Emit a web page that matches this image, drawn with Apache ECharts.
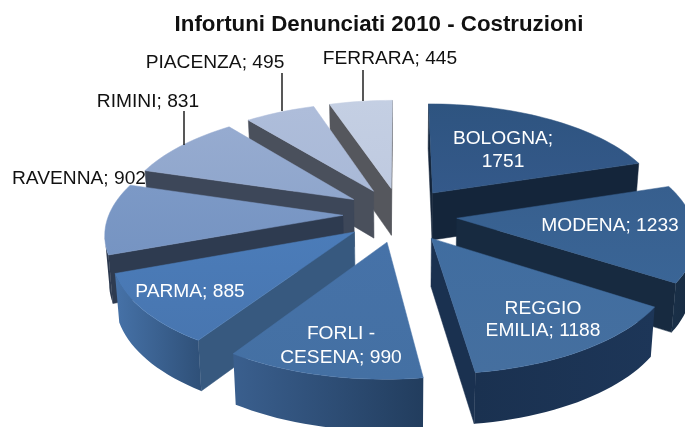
<!DOCTYPE html>
<html><head><meta charset="utf-8">
<style>html,body{margin:0;padding:0;background:#fff}#c{width:685px;height:427px}</style>
<script src="https://cdn.jsdelivr.net/npm/echarts@6/dist/echarts.min.js"></script>
</head><body><div id="c"></div>
<script>
// ---- data ----
const categories = ['BOLOGNA','MODENA','REGGIO EMILIA','FORLI - CESENA','PARMA','RAVENNA','RIMINI','PIACENZA','FERRARA'];
const values = [1751,1233,1188,990,885,902,831,495,445];
const labelLines = [['BOLOGNA;','1751'],['MODENA; 1233'],['REGGIO','EMILIA; 1188'],['FORLI -','CESENA; 990'],['PARMA; 885'],['RAVENNA; 902'],['RIMINI; 831'],['PIACENZA; 495'],['FERRARA; 445']];

// ---- appearance ----
const topColors  = [['#2e5480','#34598a'],['#375f8e','#3a6596'],['#406da0','#456f9f'],['#4672a8','#4470a3'],['#4b7cb9','#4876b0'],['#7c99c6','#7694c2'],['#96abd0','#8fa6cc'],['#aebdda','#a9b9d7'],['#c4cfe3','#bfcae0']];
const sideColors = ['#14253a','#172a40','#1a3150','#2b4a70','#37597f','#2e3b50','#3d4759','#4a505c','#55575d'];
const wallColors = [['#14253a','#14253a'],['#1a3048','#172a40'],['#1a3150','#1d3658'],['#3a5f8e','#223d5e'],['#4672a8','#2f5078'],['#2e3b50','#2e3b50'],['#3d4759','#3d4759'],['#4a505c','#4a505c'],['#55575d','#55575d']];
const paintOrder = [8,7,0,6,1,5,4,2,3];
const labelAt = [[503,[138.5,161.5],'#fff'],[610,[226],'#fff'],[543,[309,331],'#fff'],[341,[334,358],'#fff'],[190,[292],'#fff'],[79,[179],'#111'],[148,[102],'#111'],[215,[63],'#111'],[390,[59],'#111']];
const leaders = {6:[184,111,145],7:[282,73,111],8:[363,70,101]};
const view = {cx:400, cy:214.5, k:0.48, q:0.00065, R:225, sx:1.04, explode:57, depth:47.5};

const total = values.reduce((a,b)=>a+b,0);
const rad = d => d*Math.PI/180;
function pt(a,r,mid,drop){
  const X=view.explode*Math.sin(mid)+r*view.sx*Math.sin(a);
  const Y=view.explode*Math.cos(mid)+r*Math.cos(a);
  const w=1+view.q*Y;
  return drop
    ? [view.cx+X/w*0.985, view.cy-view.k*Y/w+view.depth/Math.pow(w,0.4)]
    : [view.cx+X/w, view.cy-view.k*Y/w];
}
function renderSlice(params,api){
  const i=params.dataIndex, v=api.value(0);
  const before=values.slice(0,i).reduce((a,b)=>a+b,0);
  const a0=before/total*2*Math.PI, a1=a0+v/total*2*Math.PI, mid=(a0+a1)/2;
  const rank=paintOrder.indexOf(i)*10;
  const steps=Math.max(6,Math.round((a1-a0)/rad(2)));
  const arc=[]; for(let s=0;s<=steps;s++) arc.push(a0+(a1-a0)*s/steps);
  const apex=pt(0,0,mid,false), apexD=pt(0,0,mid,true);
  const top=[apex].concat(arc.map(a=>pt(a,view.R,mid,false)));
  const ins=pt(mid,view.R*0.5,mid,false);
  const kids=[];
  const faces=(p,q)=>{
    const ex=q[0]-p[0], ey=q[1]-p[1];
    let nx=-ey, ny=ex;
    const mx=(p[0]+q[0])/2-ins[0], my=(p[1]+q[1])/2-ins[1];
    if(nx*mx+ny*my<0){nx=-nx;ny=-ny;}
    return ny>0;
  };
  const c0=pt(a0,view.R,mid,false),c0d=pt(a0,view.R,mid,true);
  const c1=pt(a1,view.R,mid,false),c1d=pt(a1,view.R,mid,true);
  [[c0,c0d],[c1,c1d]].forEach(([c,d])=>{
    if(faces(apex,c)) kids.push({type:'polygon',z2:rank,shape:{points:[apex,c,d,apexD]},style:{fill:sideColors[i],stroke:sideColors[i],lineWidth:0.5}});
  });
  // outer wall: one polygon over the run of segments facing the viewer
  const vis=[];
  for(let s=0;s<steps;s++){
    if(faces(pt(arc[s],view.R,mid,false),pt(arc[s+1],view.R,mid,false))){
      if(!vis.length) vis.push(arc[s]);
      vis.push(arc[s+1]);
    }
  }
  if(vis.length>1){
    const upper=vis.map(a=>pt(a,view.R,mid,false));
    const lower=vis.map(a=>pt(a,view.R,mid,true)).reverse();
    kids.push({type:'polygon',z2:rank,shape:{points:upper.concat(lower)},style:{
      fill:new echarts.graphic.LinearGradient(0,0,1,0,[{offset:0,color:wallColors[i][0]},{offset:1,color:wallColors[i][1]}])}});
  }
  kids.push({type:'polygon',z2:rank+1,shape:{points:top},style:{
    fill:new echarts.graphic.LinearGradient(0,0,0,1,[{offset:0,color:topColors[i][0]},{offset:1,color:topColors[i][1]}]),
    stroke:topColors[i][0],lineWidth:0.5}});
  const la=labelAt[i];
  labelLines[i].forEach((t,n)=>{
    kids.push({type:'text',z2:500,style:{text:t,x:la[0],y:la[1][n],align:'center',verticalAlign:'middle',
      fill:la[2],font:'19.2px "Liberation Sans",Arial,sans-serif'}});
  });
  if(leaders[i]){
    const L=leaders[i];
    kids.push({type:'line',z2:400,shape:{x1:L[0],y1:L[1],x2:L[0],y2:L[2]},style:{stroke:'#111',lineWidth:1.4}});
  }
  return {type:'group',children:kids};
}
const chart=echarts.init(document.getElementById('c'),null,{renderer:'canvas'});
chart.setOption({
  animation:false,
  backgroundColor:'#fff',
  title:{text:'Infortuni Denunciati 2010 - Costruzioni',left:374,top:9,textAlign:'center',
    textStyle:{fontFamily:'"Liberation Sans",Arial,sans-serif',fontWeight:'bold',fontSize:22.3,color:'#111'}},
  series:[{type:'custom',coordinateSystem:'none',silent:true,clip:false,
    renderItem:renderSlice,
    data:values.map((v,i)=>({name:categories[i],value:[v]}))}]
});
</script></body></html>
